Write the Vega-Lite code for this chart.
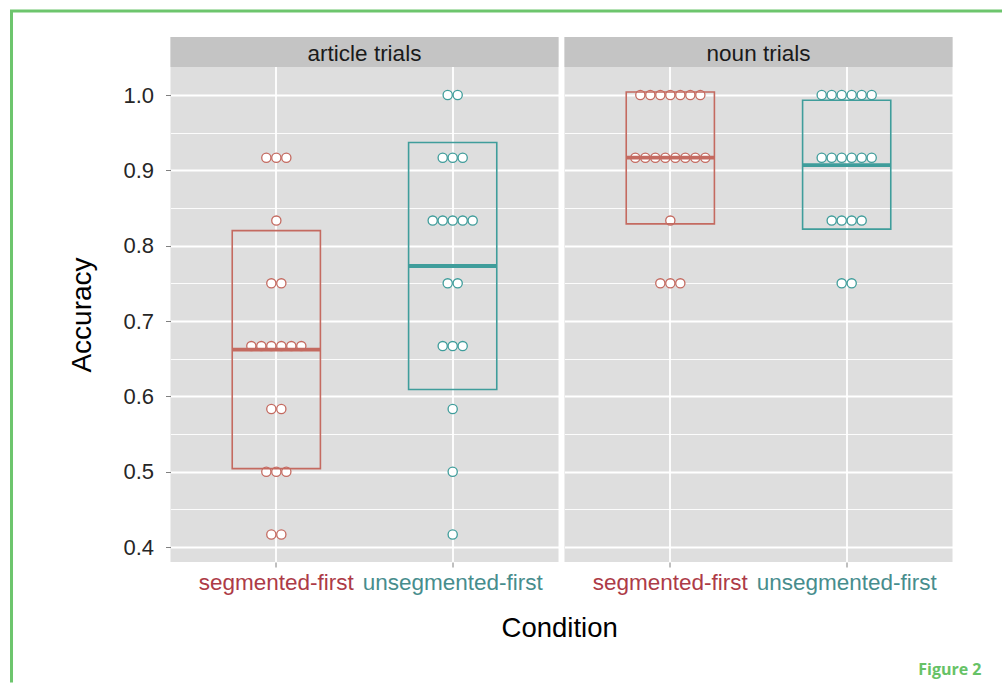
{
  "$schema": "https://vega.github.io/schema/vega-lite/v6.json",
  "padding": {"left": 9.5, "top": 9, "right": 0, "bottom": 0},
  "background": "white",
  "spacing": -2,
  "config": {
    "font": "Liberation Sans",
    "view": {"stroke": null, "fill": "#dedede"},
    "axis": {"labelFont": "Liberation Sans", "titleFont": "Liberation Sans"}
  },
  "datasets": {
    "acc": [
      {"trial": "article trials", "condition": "segmented-first", "kind": "box", "lo": 0.504, "mean": 0.662, "hi": 0.820},
      {"trial": "article trials", "condition": "unsegmented-first", "kind": "box", "lo": 0.609, "mean": 0.773, "hi": 0.937},
      {"trial": "noun trials", "condition": "segmented-first", "kind": "box", "lo": 0.829, "mean": 0.917, "hi": 1.004},
      {"trial": "noun trials", "condition": "unsegmented-first", "kind": "box", "lo": 0.822, "mean": 0.907, "hi": 0.993},
      {"trial": "article trials", "condition": "segmented-first", "kind": "dot", "accuracy": 0.9167},
      {"trial": "article trials", "condition": "segmented-first", "kind": "dot", "accuracy": 0.9167},
      {"trial": "article trials", "condition": "segmented-first", "kind": "dot", "accuracy": 0.9167},
      {"trial": "article trials", "condition": "segmented-first", "kind": "dot", "accuracy": 0.8333},
      {"trial": "article trials", "condition": "segmented-first", "kind": "dot", "accuracy": 0.75},
      {"trial": "article trials", "condition": "segmented-first", "kind": "dot", "accuracy": 0.75},
      {"trial": "article trials", "condition": "segmented-first", "kind": "dot", "accuracy": 0.6667},
      {"trial": "article trials", "condition": "segmented-first", "kind": "dot", "accuracy": 0.6667},
      {"trial": "article trials", "condition": "segmented-first", "kind": "dot", "accuracy": 0.6667},
      {"trial": "article trials", "condition": "segmented-first", "kind": "dot", "accuracy": 0.6667},
      {"trial": "article trials", "condition": "segmented-first", "kind": "dot", "accuracy": 0.6667},
      {"trial": "article trials", "condition": "segmented-first", "kind": "dot", "accuracy": 0.6667},
      {"trial": "article trials", "condition": "segmented-first", "kind": "dot", "accuracy": 0.5833},
      {"trial": "article trials", "condition": "segmented-first", "kind": "dot", "accuracy": 0.5833},
      {"trial": "article trials", "condition": "segmented-first", "kind": "dot", "accuracy": 0.5},
      {"trial": "article trials", "condition": "segmented-first", "kind": "dot", "accuracy": 0.5},
      {"trial": "article trials", "condition": "segmented-first", "kind": "dot", "accuracy": 0.5},
      {"trial": "article trials", "condition": "segmented-first", "kind": "dot", "accuracy": 0.4167},
      {"trial": "article trials", "condition": "segmented-first", "kind": "dot", "accuracy": 0.4167},
      {"trial": "article trials", "condition": "unsegmented-first", "kind": "dot", "accuracy": 1.0},
      {"trial": "article trials", "condition": "unsegmented-first", "kind": "dot", "accuracy": 1.0},
      {"trial": "article trials", "condition": "unsegmented-first", "kind": "dot", "accuracy": 0.9167},
      {"trial": "article trials", "condition": "unsegmented-first", "kind": "dot", "accuracy": 0.9167},
      {"trial": "article trials", "condition": "unsegmented-first", "kind": "dot", "accuracy": 0.9167},
      {"trial": "article trials", "condition": "unsegmented-first", "kind": "dot", "accuracy": 0.8333},
      {"trial": "article trials", "condition": "unsegmented-first", "kind": "dot", "accuracy": 0.8333},
      {"trial": "article trials", "condition": "unsegmented-first", "kind": "dot", "accuracy": 0.8333},
      {"trial": "article trials", "condition": "unsegmented-first", "kind": "dot", "accuracy": 0.8333},
      {"trial": "article trials", "condition": "unsegmented-first", "kind": "dot", "accuracy": 0.8333},
      {"trial": "article trials", "condition": "unsegmented-first", "kind": "dot", "accuracy": 0.75},
      {"trial": "article trials", "condition": "unsegmented-first", "kind": "dot", "accuracy": 0.75},
      {"trial": "article trials", "condition": "unsegmented-first", "kind": "dot", "accuracy": 0.6667},
      {"trial": "article trials", "condition": "unsegmented-first", "kind": "dot", "accuracy": 0.6667},
      {"trial": "article trials", "condition": "unsegmented-first", "kind": "dot", "accuracy": 0.6667},
      {"trial": "article trials", "condition": "unsegmented-first", "kind": "dot", "accuracy": 0.5833},
      {"trial": "article trials", "condition": "unsegmented-first", "kind": "dot", "accuracy": 0.5},
      {"trial": "article trials", "condition": "unsegmented-first", "kind": "dot", "accuracy": 0.4167},
      {"trial": "noun trials", "condition": "segmented-first", "kind": "dot", "accuracy": 1.0},
      {"trial": "noun trials", "condition": "segmented-first", "kind": "dot", "accuracy": 1.0},
      {"trial": "noun trials", "condition": "segmented-first", "kind": "dot", "accuracy": 1.0},
      {"trial": "noun trials", "condition": "segmented-first", "kind": "dot", "accuracy": 1.0},
      {"trial": "noun trials", "condition": "segmented-first", "kind": "dot", "accuracy": 1.0},
      {"trial": "noun trials", "condition": "segmented-first", "kind": "dot", "accuracy": 1.0},
      {"trial": "noun trials", "condition": "segmented-first", "kind": "dot", "accuracy": 1.0},
      {"trial": "noun trials", "condition": "segmented-first", "kind": "dot", "accuracy": 0.9167},
      {"trial": "noun trials", "condition": "segmented-first", "kind": "dot", "accuracy": 0.9167},
      {"trial": "noun trials", "condition": "segmented-first", "kind": "dot", "accuracy": 0.9167},
      {"trial": "noun trials", "condition": "segmented-first", "kind": "dot", "accuracy": 0.9167},
      {"trial": "noun trials", "condition": "segmented-first", "kind": "dot", "accuracy": 0.9167},
      {"trial": "noun trials", "condition": "segmented-first", "kind": "dot", "accuracy": 0.9167},
      {"trial": "noun trials", "condition": "segmented-first", "kind": "dot", "accuracy": 0.9167},
      {"trial": "noun trials", "condition": "segmented-first", "kind": "dot", "accuracy": 0.9167},
      {"trial": "noun trials", "condition": "segmented-first", "kind": "dot", "accuracy": 0.8333},
      {"trial": "noun trials", "condition": "segmented-first", "kind": "dot", "accuracy": 0.75},
      {"trial": "noun trials", "condition": "segmented-first", "kind": "dot", "accuracy": 0.75},
      {"trial": "noun trials", "condition": "segmented-first", "kind": "dot", "accuracy": 0.75},
      {"trial": "noun trials", "condition": "unsegmented-first", "kind": "dot", "accuracy": 1.0},
      {"trial": "noun trials", "condition": "unsegmented-first", "kind": "dot", "accuracy": 1.0},
      {"trial": "noun trials", "condition": "unsegmented-first", "kind": "dot", "accuracy": 1.0},
      {"trial": "noun trials", "condition": "unsegmented-first", "kind": "dot", "accuracy": 1.0},
      {"trial": "noun trials", "condition": "unsegmented-first", "kind": "dot", "accuracy": 1.0},
      {"trial": "noun trials", "condition": "unsegmented-first", "kind": "dot", "accuracy": 1.0},
      {"trial": "noun trials", "condition": "unsegmented-first", "kind": "dot", "accuracy": 0.9167},
      {"trial": "noun trials", "condition": "unsegmented-first", "kind": "dot", "accuracy": 0.9167},
      {"trial": "noun trials", "condition": "unsegmented-first", "kind": "dot", "accuracy": 0.9167},
      {"trial": "noun trials", "condition": "unsegmented-first", "kind": "dot", "accuracy": 0.9167},
      {"trial": "noun trials", "condition": "unsegmented-first", "kind": "dot", "accuracy": 0.9167},
      {"trial": "noun trials", "condition": "unsegmented-first", "kind": "dot", "accuracy": 0.9167},
      {"trial": "noun trials", "condition": "unsegmented-first", "kind": "dot", "accuracy": 0.8333},
      {"trial": "noun trials", "condition": "unsegmented-first", "kind": "dot", "accuracy": 0.8333},
      {"trial": "noun trials", "condition": "unsegmented-first", "kind": "dot", "accuracy": 0.8333},
      {"trial": "noun trials", "condition": "unsegmented-first", "kind": "dot", "accuracy": 0.8333},
      {"trial": "noun trials", "condition": "unsegmented-first", "kind": "dot", "accuracy": 0.75},
      {"trial": "noun trials", "condition": "unsegmented-first", "kind": "dot", "accuracy": 0.75}
    ]
  },
  "vconcat": [
    {"width": 989, "height": 0.01, "data": {"values": []}, "mark": "point", "encoding": {}, "view": {"stroke": "#6dc56d", "strokeWidth": 3, "fill": null}},
    {
      "spacing": 55,
      "hconcat": [
        {"width": 0.01, "height": 668, "data": {"values": []}, "mark": "point", "encoding": {}, "view": {"stroke": "#6dc56d", "strokeWidth": 3, "fill": null}},
        {
          "spacing": 0,
          "title": {"text": "Figure 2", "orient": "bottom", "anchor": "end", "font": "Open Sans", "fontSize": 16, "fontWeight": "bold", "color": "#66c266", "offset": 20, "dx": 29},
          "vconcat": [
            {"width": 0.01, "height": 24, "data": {"values": []}, "mark": "point", "encoding": {}, "view": {"stroke": null, "fill": null}},
            {
              "spacing": 6,
              "title": {"text": "Condition", "orient": "bottom", "anchor": "middle", "font": "Liberation Sans", "fontSize": 27.5, "fontWeight": "normal", "color": "#000000", "offset": 21, "dx": 49},
              "hconcat": [
                {
                  "width": 388,
                  "height": 525,
                  "data": {"name": "acc"},
                  "transform": [{"filter": "datum.trial == 'article trials'"}],
                  "resolve": {"scale": {"xOffset": "independent"}},
                  "layer": [
                    {
                      "transform": [{"filter": "datum.kind == 'box'"}, {"aggregate": [{"op": "count", "as": "n"}], "groupby": ["trial"]}],
                      "mark": {"type": "rect", "fill": "#c4c4c4"},
                      "encoding": {
                        "y": {"datum": 1.0372, "type": "quantitative", "scale": {"domain": [0.3801, 1.077], "nice": false, "zero": false},
                          "axis": {"title": "Accuracy", "values": [0.4, 0.45, 0.5, 0.55, 0.6, 0.65, 0.7, 0.75, 0.8, 0.85, 0.9, 0.95, 1.0],
                            "labelExpr": "abs(datum.value*10 - round(datum.value*10)) < 0.01 ? format(datum.value, '.1f') : ''",
                            "domain": false, "tickSize": 5, "tickColor": "#808080", "tickWidth": 1,
                            "tickOpacity": {"condition": {"test": "abs(datum.value*10 - round(datum.value*10)) < 0.01", "value": 1}, "value": 0},
                            "grid": true, "gridColor": "#ffffff", "gridOpacity": 1,
                            "gridWidth": {"condition": {"test": "abs(datum.value*10 - round(datum.value*10)) < 0.01", "value": 1.8}, "value": 0.9},
                            "labelFontSize": 22, "labelColor": "#262626", "labelPadding": 12, "labelOverlap": false, "labelFlush": false, "labelBound": false,
                            "titleFontSize": 28, "titleFontWeight": "normal", "titleColor": "#000000", "titlePadding": 26, "titleY": 277.5}},
                        "y2": {"datum": 1.077}
                      }
                    },
                    {
                      "transform": [{"filter": "datum.kind == 'box'"}, {"aggregate": [{"op": "count", "as": "n"}], "groupby": ["trial"]}],
                      "mark": {"type": "text", "fontSize": 22.5, "color": "#1a1a1a", "baseline": "alphabetic", "align": "center", "font": "Liberation Sans"},
                      "encoding": {
                        "y": {"datum": 1.0445, "type": "quantitative", "scale": {"domain": [0.3801, 1.077], "nice": false, "zero": false},
                          "axis": {"title": "Accuracy", "values": [0.4, 0.45, 0.5, 0.55, 0.6, 0.65, 0.7, 0.75, 0.8, 0.85, 0.9, 0.95, 1.0],
                            "labelExpr": "abs(datum.value*10 - round(datum.value*10)) < 0.01 ? format(datum.value, '.1f') : ''",
                            "domain": false, "tickSize": 5, "tickColor": "#808080", "tickWidth": 1,
                            "tickOpacity": {"condition": {"test": "abs(datum.value*10 - round(datum.value*10)) < 0.01", "value": 1}, "value": 0},
                            "grid": true, "gridColor": "#ffffff", "gridOpacity": 1,
                            "gridWidth": {"condition": {"test": "abs(datum.value*10 - round(datum.value*10)) < 0.01", "value": 1.8}, "value": 0.9},
                            "labelFontSize": 22, "labelColor": "#262626", "labelPadding": 12, "labelOverlap": false, "labelFlush": false, "labelBound": false,
                            "titleFontSize": 28, "titleFontWeight": "normal", "titleColor": "#000000", "titlePadding": 26, "titleY": 277.5}},
                        "text": {"field": "trial", "type": "nominal"}
                      }
                    },
                    {
                      "transform": [
                        {"filter": "datum.kind == 'dot'"},
                        {"window": [{"op": "row_number", "as": "idx"}], "groupby": ["condition", "accuracy"]},
                        {"joinaggregate": [{"op": "count", "as": "n"}], "groupby": ["condition", "accuracy"]},
                        {"calculate": "datum.idx - (datum.n + 1) / 2", "as": "slot"}
                      ],
                      "mark": {"type": "point", "shape": "circle", "filled": false, "fill": "white", "fillOpacity": 1, "opacity": 1, "size": 85, "strokeWidth": 1.3},
                      "encoding": {
                        "x": {"field": "condition", "type": "nominal", "scale": {"domain": ["segmented-first", "unsegmented-first"], "paddingInner": 0.5, "paddingOuter": 0.35},
                          "axis": {"title": null, "bandPosition": 0.5, "domain": false, "tickSize": 5, "tickColor": "#808080", "tickWidth": 1, "grid": true, "gridColor": "#ffffff", "gridWidth": 1.8, "labelFontSize": 22.5, "labelPadding": 4, "labelAngle": 0, "labelLimit": 0, "labelOverlap": false,
                            "labelColor": {"condition": {"test": "datum.value == 'segmented-first'", "value": "#ad3b47"}, "value": "#478d8d"}}},
                        "xOffset": {"field": "slot", "type": "quantitative", "scale": {"domain": [-5, 5], "range": [-5.9, 94.1]}},
                        "y": {"field": "accuracy", "type": "quantitative", "scale": {"domain": [0.3801, 1.077], "nice": false, "zero": false},
                          "axis": {"title": "Accuracy", "values": [0.4, 0.45, 0.5, 0.55, 0.6, 0.65, 0.7, 0.75, 0.8, 0.85, 0.9, 0.95, 1.0],
                            "labelExpr": "abs(datum.value*10 - round(datum.value*10)) < 0.01 ? format(datum.value, '.1f') : ''",
                            "domain": false, "tickSize": 5, "tickColor": "#808080", "tickWidth": 1,
                            "tickOpacity": {"condition": {"test": "abs(datum.value*10 - round(datum.value*10)) < 0.01", "value": 1}, "value": 0},
                            "grid": true, "gridColor": "#ffffff", "gridOpacity": 1,
                            "gridWidth": {"condition": {"test": "abs(datum.value*10 - round(datum.value*10)) < 0.01", "value": 1.8}, "value": 0.9},
                            "labelFontSize": 22, "labelColor": "#262626", "labelPadding": 12, "labelOverlap": false, "labelFlush": false, "labelBound": false,
                            "titleFontSize": 28, "titleFontWeight": "normal", "titleColor": "#000000", "titlePadding": 26, "titleY": 277.5}},
                        "stroke": {"field": "condition", "type": "nominal", "scale": {"domain": ["segmented-first", "unsegmented-first"], "range": ["#c46a60", "#3f9d9b"]}, "legend": null}
                      }
                    },
                    {
                      "transform": [{"filter": "datum.kind == 'box'"}],
                      "mark": {"type": "bar", "fill": "transparent", "strokeWidth": 1.6},
                      "encoding": {
                        "x": {"field": "condition", "type": "nominal", "scale": {"domain": ["segmented-first", "unsegmented-first"], "paddingInner": 0.5, "paddingOuter": 0.35},
                          "axis": {"title": null, "bandPosition": 0.5, "domain": false, "tickSize": 5, "tickColor": "#808080", "tickWidth": 1, "grid": true, "gridColor": "#ffffff", "gridWidth": 1.8, "labelFontSize": 22.5, "labelPadding": 4, "labelAngle": 0, "labelLimit": 0, "labelOverlap": false,
                            "labelColor": {"condition": {"test": "datum.value == 'segmented-first'", "value": "#ad3b47"}, "value": "#478d8d"}}},
                        "y": {"field": "lo", "type": "quantitative", "scale": {"domain": [0.3801, 1.077], "nice": false, "zero": false},
                          "axis": {"title": "Accuracy", "values": [0.4, 0.45, 0.5, 0.55, 0.6, 0.65, 0.7, 0.75, 0.8, 0.85, 0.9, 0.95, 1.0],
                            "labelExpr": "abs(datum.value*10 - round(datum.value*10)) < 0.01 ? format(datum.value, '.1f') : ''",
                            "domain": false, "tickSize": 5, "tickColor": "#808080", "tickWidth": 1,
                            "tickOpacity": {"condition": {"test": "abs(datum.value*10 - round(datum.value*10)) < 0.01", "value": 1}, "value": 0},
                            "grid": true, "gridColor": "#ffffff", "gridOpacity": 1,
                            "gridWidth": {"condition": {"test": "abs(datum.value*10 - round(datum.value*10)) < 0.01", "value": 1.8}, "value": 0.9},
                            "labelFontSize": 22, "labelColor": "#262626", "labelPadding": 12, "labelOverlap": false, "labelFlush": false, "labelBound": false,
                            "titleFontSize": 28, "titleFontWeight": "normal", "titleColor": "#000000", "titlePadding": 26, "titleY": 277.5}},
                        "y2": {"field": "hi"},
                        "stroke": {"field": "condition", "type": "nominal", "scale": {"domain": ["segmented-first", "unsegmented-first"], "range": ["#c46a60", "#3f9d9b"]}, "legend": null}
                      }
                    },
                    {
                      "transform": [{"filter": "datum.kind == 'box'"}],
                      "mark": {"type": "bar", "fill": "transparent", "strokeWidth": 3.8},
                      "encoding": {
                        "x": {"field": "condition", "type": "nominal", "scale": {"domain": ["segmented-first", "unsegmented-first"], "paddingInner": 0.5, "paddingOuter": 0.35},
                          "axis": {"title": null, "bandPosition": 0.5, "domain": false, "tickSize": 5, "tickColor": "#808080", "tickWidth": 1, "grid": true, "gridColor": "#ffffff", "gridWidth": 1.8, "labelFontSize": 22.5, "labelPadding": 4, "labelAngle": 0, "labelLimit": 0, "labelOverlap": false,
                            "labelColor": {"condition": {"test": "datum.value == 'segmented-first'", "value": "#ad3b47"}, "value": "#478d8d"}}},
                        "y": {"field": "mean", "type": "quantitative", "scale": {"domain": [0.3801, 1.077], "nice": false, "zero": false},
                          "axis": {"title": "Accuracy", "values": [0.4, 0.45, 0.5, 0.55, 0.6, 0.65, 0.7, 0.75, 0.8, 0.85, 0.9, 0.95, 1.0],
                            "labelExpr": "abs(datum.value*10 - round(datum.value*10)) < 0.01 ? format(datum.value, '.1f') : ''",
                            "domain": false, "tickSize": 5, "tickColor": "#808080", "tickWidth": 1,
                            "tickOpacity": {"condition": {"test": "abs(datum.value*10 - round(datum.value*10)) < 0.01", "value": 1}, "value": 0},
                            "grid": true, "gridColor": "#ffffff", "gridOpacity": 1,
                            "gridWidth": {"condition": {"test": "abs(datum.value*10 - round(datum.value*10)) < 0.01", "value": 1.8}, "value": 0.9},
                            "labelFontSize": 22, "labelColor": "#262626", "labelPadding": 12, "labelOverlap": false, "labelFlush": false, "labelBound": false,
                            "titleFontSize": 28, "titleFontWeight": "normal", "titleColor": "#000000", "titlePadding": 26, "titleY": 277.5}},
                        "y2": {"field": "mean"},
                        "stroke": {"field": "condition", "type": "nominal", "scale": {"domain": ["segmented-first", "unsegmented-first"], "range": ["#c46a60", "#3f9d9b"]}, "legend": null}
                      }
                    }
                  ]
                },
                {
                  "width": 388,
                  "height": 525,
                  "data": {"name": "acc"},
                  "transform": [{"filter": "datum.trial == 'noun trials'"}],
                  "resolve": {"scale": {"xOffset": "independent"}},
                  "layer": [
                    {
                      "transform": [{"filter": "datum.kind == 'box'"}, {"aggregate": [{"op": "count", "as": "n"}], "groupby": ["trial"]}],
                      "mark": {"type": "rect", "fill": "#c4c4c4"},
                      "encoding": {
                        "y": {"datum": 1.0372, "type": "quantitative", "scale": {"domain": [0.3801, 1.077], "nice": false, "zero": false},
                          "axis": {"title": null, "values": [0.4, 0.45, 0.5, 0.55, 0.6, 0.65, 0.7, 0.75, 0.8, 0.85, 0.9, 0.95, 1.0], "labels": false, "ticks": false, "domain": false,
                            "grid": true, "gridColor": "#ffffff", "gridOpacity": 1,
                            "gridWidth": {"condition": {"test": "abs(datum.value*10 - round(datum.value*10)) < 0.01", "value": 1.8}, "value": 0.9}}},
                        "y2": {"datum": 1.077}
                      }
                    },
                    {
                      "transform": [{"filter": "datum.kind == 'box'"}, {"aggregate": [{"op": "count", "as": "n"}], "groupby": ["trial"]}],
                      "mark": {"type": "text", "fontSize": 22.5, "color": "#1a1a1a", "baseline": "alphabetic", "align": "center", "font": "Liberation Sans"},
                      "encoding": {
                        "y": {"datum": 1.0445, "type": "quantitative", "scale": {"domain": [0.3801, 1.077], "nice": false, "zero": false},
                          "axis": {"title": null, "values": [0.4, 0.45, 0.5, 0.55, 0.6, 0.65, 0.7, 0.75, 0.8, 0.85, 0.9, 0.95, 1.0], "labels": false, "ticks": false, "domain": false,
                            "grid": true, "gridColor": "#ffffff", "gridOpacity": 1,
                            "gridWidth": {"condition": {"test": "abs(datum.value*10 - round(datum.value*10)) < 0.01", "value": 1.8}, "value": 0.9}}},
                        "text": {"field": "trial", "type": "nominal"}
                      }
                    },
                    {
                      "transform": [
                        {"filter": "datum.kind == 'dot'"},
                        {"window": [{"op": "row_number", "as": "idx"}], "groupby": ["condition", "accuracy"]},
                        {"joinaggregate": [{"op": "count", "as": "n"}], "groupby": ["condition", "accuracy"]},
                        {"calculate": "datum.idx - (datum.n + 1) / 2", "as": "slot"}
                      ],
                      "mark": {"type": "point", "shape": "circle", "filled": false, "fill": "white", "fillOpacity": 1, "opacity": 1, "size": 85, "strokeWidth": 1.3},
                      "encoding": {
                        "x": {"field": "condition", "type": "nominal", "scale": {"domain": ["segmented-first", "unsegmented-first"], "paddingInner": 0.5, "paddingOuter": 0.35},
                          "axis": {"title": null, "bandPosition": 0.5, "domain": false, "tickSize": 5, "tickColor": "#808080", "tickWidth": 1, "grid": true, "gridColor": "#ffffff", "gridWidth": 1.8, "labelFontSize": 22.5, "labelPadding": 4, "labelAngle": 0, "labelLimit": 0, "labelOverlap": false,
                            "labelColor": {"condition": {"test": "datum.value == 'segmented-first'", "value": "#ad3b47"}, "value": "#478d8d"}}},
                        "xOffset": {"field": "slot", "type": "quantitative", "scale": {"domain": [-5, 5], "range": [-5.9, 94.1]}},
                        "y": {"field": "accuracy", "type": "quantitative", "scale": {"domain": [0.3801, 1.077], "nice": false, "zero": false},
                          "axis": {"title": null, "values": [0.4, 0.45, 0.5, 0.55, 0.6, 0.65, 0.7, 0.75, 0.8, 0.85, 0.9, 0.95, 1.0], "labels": false, "ticks": false, "domain": false,
                            "grid": true, "gridColor": "#ffffff", "gridOpacity": 1,
                            "gridWidth": {"condition": {"test": "abs(datum.value*10 - round(datum.value*10)) < 0.01", "value": 1.8}, "value": 0.9}}},
                        "stroke": {"field": "condition", "type": "nominal", "scale": {"domain": ["segmented-first", "unsegmented-first"], "range": ["#c46a60", "#3f9d9b"]}, "legend": null}
                      }
                    },
                    {
                      "transform": [{"filter": "datum.kind == 'box'"}],
                      "mark": {"type": "bar", "fill": "transparent", "strokeWidth": 1.6},
                      "encoding": {
                        "x": {"field": "condition", "type": "nominal", "scale": {"domain": ["segmented-first", "unsegmented-first"], "paddingInner": 0.5, "paddingOuter": 0.35},
                          "axis": {"title": null, "bandPosition": 0.5, "domain": false, "tickSize": 5, "tickColor": "#808080", "tickWidth": 1, "grid": true, "gridColor": "#ffffff", "gridWidth": 1.8, "labelFontSize": 22.5, "labelPadding": 4, "labelAngle": 0, "labelLimit": 0, "labelOverlap": false,
                            "labelColor": {"condition": {"test": "datum.value == 'segmented-first'", "value": "#ad3b47"}, "value": "#478d8d"}}},
                        "y": {"field": "lo", "type": "quantitative", "scale": {"domain": [0.3801, 1.077], "nice": false, "zero": false},
                          "axis": {"title": null, "values": [0.4, 0.45, 0.5, 0.55, 0.6, 0.65, 0.7, 0.75, 0.8, 0.85, 0.9, 0.95, 1.0], "labels": false, "ticks": false, "domain": false,
                            "grid": true, "gridColor": "#ffffff", "gridOpacity": 1,
                            "gridWidth": {"condition": {"test": "abs(datum.value*10 - round(datum.value*10)) < 0.01", "value": 1.8}, "value": 0.9}}},
                        "y2": {"field": "hi"},
                        "stroke": {"field": "condition", "type": "nominal", "scale": {"domain": ["segmented-first", "unsegmented-first"], "range": ["#c46a60", "#3f9d9b"]}, "legend": null}
                      }
                    },
                    {
                      "transform": [{"filter": "datum.kind == 'box'"}],
                      "mark": {"type": "bar", "fill": "transparent", "strokeWidth": 3.8},
                      "encoding": {
                        "x": {"field": "condition", "type": "nominal", "scale": {"domain": ["segmented-first", "unsegmented-first"], "paddingInner": 0.5, "paddingOuter": 0.35},
                          "axis": {"title": null, "bandPosition": 0.5, "domain": false, "tickSize": 5, "tickColor": "#808080", "tickWidth": 1, "grid": true, "gridColor": "#ffffff", "gridWidth": 1.8, "labelFontSize": 22.5, "labelPadding": 4, "labelAngle": 0, "labelLimit": 0, "labelOverlap": false,
                            "labelColor": {"condition": {"test": "datum.value == 'segmented-first'", "value": "#ad3b47"}, "value": "#478d8d"}}},
                        "y": {"field": "mean", "type": "quantitative", "scale": {"domain": [0.3801, 1.077], "nice": false, "zero": false},
                          "axis": {"title": null, "values": [0.4, 0.45, 0.5, 0.55, 0.6, 0.65, 0.7, 0.75, 0.8, 0.85, 0.9, 0.95, 1.0], "labels": false, "ticks": false, "domain": false,
                            "grid": true, "gridColor": "#ffffff", "gridOpacity": 1,
                            "gridWidth": {"condition": {"test": "abs(datum.value*10 - round(datum.value*10)) < 0.01", "value": 1.8}, "value": 0.9}}},
                        "y2": {"field": "mean"},
                        "stroke": {"field": "condition", "type": "nominal", "scale": {"domain": ["segmented-first", "unsegmented-first"], "range": ["#c46a60", "#3f9d9b"]}, "legend": null}
                      }
                    }
                  ]
                }
              ]
            }
          ]
        }
      ]
    }
  ]
}
